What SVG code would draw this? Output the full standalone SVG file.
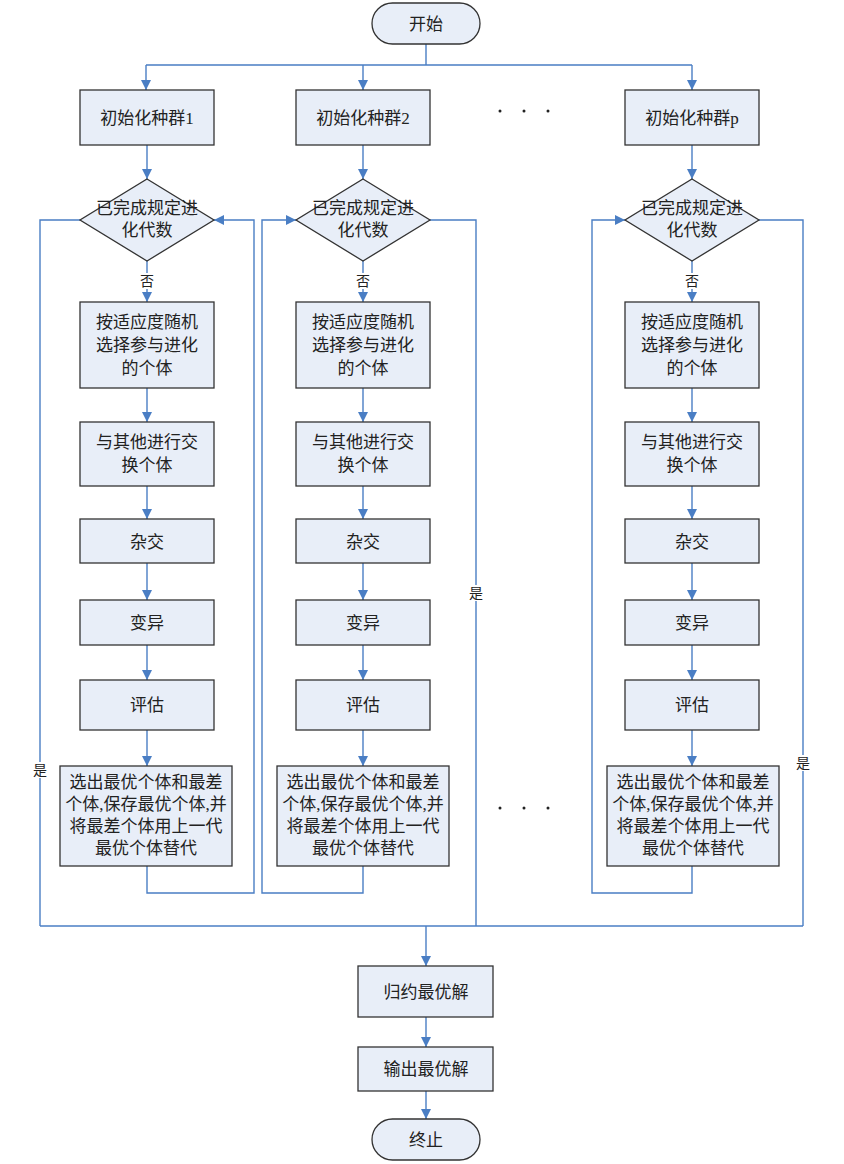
<svg xmlns="http://www.w3.org/2000/svg" width="844" height="1164" viewBox="0 0 844 1164">
<style>
.box{fill:#E8EEF8;stroke:#333;stroke-width:1.3}
.t{font-family:"Liberation Serif","Noto Sans CJK SC",serif;font-size:17px;fill:#222;text-anchor:middle;dominant-baseline:central}
.s{font-size:14px}
.c{fill:none;stroke:#4A7EC4;stroke-width:1.4}
.a{marker-end:url(#ah)}
.lb{fill:#fff}
</style>
<defs>
<marker id="ah" viewBox="0 0 10 10" refX="10" refY="5" markerWidth="10" markerHeight="10" markerUnits="userSpaceOnUse" orient="auto">
<path d="M0,0 L10,5 L0,10 Z" fill="#4A7EC4"/>
</marker>
</defs>
<g id="connectors">
<path class="c" d="M426,44 V65 M146,65 H692"/>
<path class="c a" d="M146,65 V90"/>
<path class="c a" d="M363,65 V90"/>
<path class="c a" d="M692,65 V90"/>
<!-- column 1 -->
<path class="c a" d="M147,145 V179"/>
<path class="c a" d="M147,261 V302"/>
<path class="c a" d="M147,388 V422"/>
<path class="c a" d="M147,486 V519"/>
<path class="c a" d="M147,563 V600"/>
<path class="c a" d="M147,645 V680"/>
<path class="c a" d="M147,730 V766"/>
<path class="c a" d="M147,866 V893 H254 V220 H214"/>
<path class="c" d="M80,220 H40 V926"/>
<!-- column 2 -->
<path class="c a" d="M363,145 V179"/>
<path class="c a" d="M363,261 V302"/>
<path class="c a" d="M363,388 V422"/>
<path class="c a" d="M363,486 V519"/>
<path class="c a" d="M363,563 V600"/>
<path class="c a" d="M363,645 V680"/>
<path class="c a" d="M363,730 V766"/>
<path class="c a" d="M363,866 V893 H262 V220 H296"/>
<path class="c" d="M430,220 H476 V926"/>
<!-- column p -->
<path class="c a" d="M692,145 V179"/>
<path class="c a" d="M692,261 V302"/>
<path class="c a" d="M692,388 V422"/>
<path class="c a" d="M692,486 V519"/>
<path class="c a" d="M692,563 V600"/>
<path class="c a" d="M692,645 V680"/>
<path class="c a" d="M692,730 V766"/>
<path class="c a" d="M692,866 V893 H592 V220 H625"/>
<path class="c" d="M759,220 H803 V926"/>
<!-- bottom -->
<path class="c" d="M40,926 H803"/>
<path class="c a" d="M426,926 V966"/>
<path class="c a" d="M426,1017 V1047"/>
<path class="c a" d="M426,1091 V1119"/>
<!-- labels -->
<rect class="lb" x="139" y="273" width="16" height="16"/>
<text class="t s" x="147" y="281">否</text>
<rect class="lb" x="355" y="273" width="16" height="16"/>
<text class="t s" x="363" y="281">否</text>
<rect class="lb" x="684" y="273" width="16" height="16"/>
<text class="t s" x="692" y="281">否</text>
<rect class="lb" x="32" y="762" width="16" height="16"/>
<text class="t s" x="40" y="770">是</text>
<rect class="lb" x="468" y="585" width="16" height="16"/>
<text class="t s" x="476" y="593">是</text>
<rect class="lb" x="795" y="755" width="16" height="16"/>
<text class="t s" x="803" y="763">是</text>
</g>
<g id="start">
<rect class="box" x="372" y="3" width="108" height="41" rx="20.5"/>
<text class="t" x="426" y="24">开始</text>
</g>
<g id="dots">
<circle cx="500" cy="111" r="1.5" fill="#222"/><circle cx="524" cy="111" r="1.5" fill="#222"/><circle cx="548" cy="111" r="1.5" fill="#222"/>
<circle cx="500" cy="808" r="1.5" fill="#222"/><circle cx="524" cy="808" r="1.5" fill="#222"/><circle cx="548" cy="808" r="1.5" fill="#222"/>
</g>
<g id="col1">
<g id="init1"><rect class="box" x="80" y="90" width="134" height="55"/><text class="t" x="147" y="118">初始化种群1</text></g>
<g id="dec1"><polygon class="box" points="147,179 214,220 147,261 80,220"/><text class="t" x="147" y="208">已完成规定进</text><text class="t" x="147" y="230">化代数</text></g>
<g id="sel1"><rect class="box" x="80" y="302" width="134" height="86"/><text class="t" x="147" y="322">按适应度随机</text><text class="t" x="147" y="345">选择参与进化</text><text class="t" x="147" y="368">的个体</text></g>
<g id="swap1"><rect class="box" x="80" y="422" width="134" height="64"/><text class="t" x="147" y="442">与其他进行交</text><text class="t" x="147" y="465">换个体</text></g>
<g id="cross1"><rect class="box" x="80" y="519" width="134" height="44"/><text class="t" x="147" y="542">杂交</text></g>
<g id="mut1"><rect class="box" x="80" y="600" width="134" height="45"/><text class="t" x="147" y="623">变异</text></g>
<g id="eval1"><rect class="box" x="80" y="680" width="134" height="50"/><text class="t" x="147" y="705">评估</text></g>
<g id="best1"><rect class="box" x="60" y="766" width="172" height="100"/><text class="t" x="146" y="782">选出最优个体和最差</text><text class="t" x="146" y="804">个体,保存最优个体,并</text><text class="t" x="146" y="826">将最差个体用上一代</text><text class="t" x="146" y="848">最优个体替代</text></g>
</g>
<g id="col2">
<g id="init2"><rect class="box" x="296" y="90" width="134" height="55"/><text class="t" x="363" y="118">初始化种群2</text></g>
<g id="dec2"><polygon class="box" points="363,179 430,220 363,261 296,220"/><text class="t" x="363" y="208">已完成规定进</text><text class="t" x="363" y="230">化代数</text></g>
<g id="sel2"><rect class="box" x="296" y="302" width="134" height="86"/><text class="t" x="363" y="322">按适应度随机</text><text class="t" x="363" y="345">选择参与进化</text><text class="t" x="363" y="368">的个体</text></g>
<g id="swap2"><rect class="box" x="296" y="422" width="134" height="64"/><text class="t" x="363" y="442">与其他进行交</text><text class="t" x="363" y="465">换个体</text></g>
<g id="cross2"><rect class="box" x="296" y="519" width="134" height="44"/><text class="t" x="363" y="542">杂交</text></g>
<g id="mut2"><rect class="box" x="296" y="600" width="134" height="45"/><text class="t" x="363" y="623">变异</text></g>
<g id="eval2"><rect class="box" x="296" y="680" width="134" height="50"/><text class="t" x="363" y="705">评估</text></g>
<g id="best2"><rect class="box" x="277" y="766" width="172" height="100"/><text class="t" x="363" y="782">选出最优个体和最差</text><text class="t" x="363" y="804">个体,保存最优个体,并</text><text class="t" x="363" y="826">将最差个体用上一代</text><text class="t" x="363" y="848">最优个体替代</text></g>
</g>
<g id="colp">
<g id="initp"><rect class="box" x="625" y="90" width="134" height="55"/><text class="t" x="692" y="118">初始化种群p</text></g>
<g id="decp"><polygon class="box" points="692,179 759,220 692,261 625,220"/><text class="t" x="692" y="208">已完成规定进</text><text class="t" x="692" y="230">化代数</text></g>
<g id="selp"><rect class="box" x="625" y="302" width="134" height="86"/><text class="t" x="692" y="322">按适应度随机</text><text class="t" x="692" y="345">选择参与进化</text><text class="t" x="692" y="368">的个体</text></g>
<g id="swapp"><rect class="box" x="625" y="422" width="134" height="64"/><text class="t" x="692" y="442">与其他进行交</text><text class="t" x="692" y="465">换个体</text></g>
<g id="crossp"><rect class="box" x="625" y="519" width="134" height="44"/><text class="t" x="692" y="542">杂交</text></g>
<g id="mutp"><rect class="box" x="625" y="600" width="134" height="45"/><text class="t" x="692" y="623">变异</text></g>
<g id="evalp"><rect class="box" x="625" y="680" width="134" height="50"/><text class="t" x="692" y="705">评估</text></g>
<g id="bestp"><rect class="box" x="607" y="766" width="172" height="100"/><text class="t" x="693" y="782">选出最优个体和最差</text><text class="t" x="693" y="804">个体,保存最优个体,并</text><text class="t" x="693" y="826">将最差个体用上一代</text><text class="t" x="693" y="848">最优个体替代</text></g>
</g>
<g id="reduce"><rect class="box" x="358" y="966" width="135" height="51"/><text class="t" x="426" y="992">归约最优解</text></g>
<g id="output"><rect class="box" x="358" y="1047" width="135" height="44"/><text class="t" x="426" y="1069">输出最优解</text></g>
<g id="end"><rect class="box" x="372" y="1119" width="108" height="41" rx="20.5"/><text class="t" x="426" y="1140">终止</text></g>
</svg>
